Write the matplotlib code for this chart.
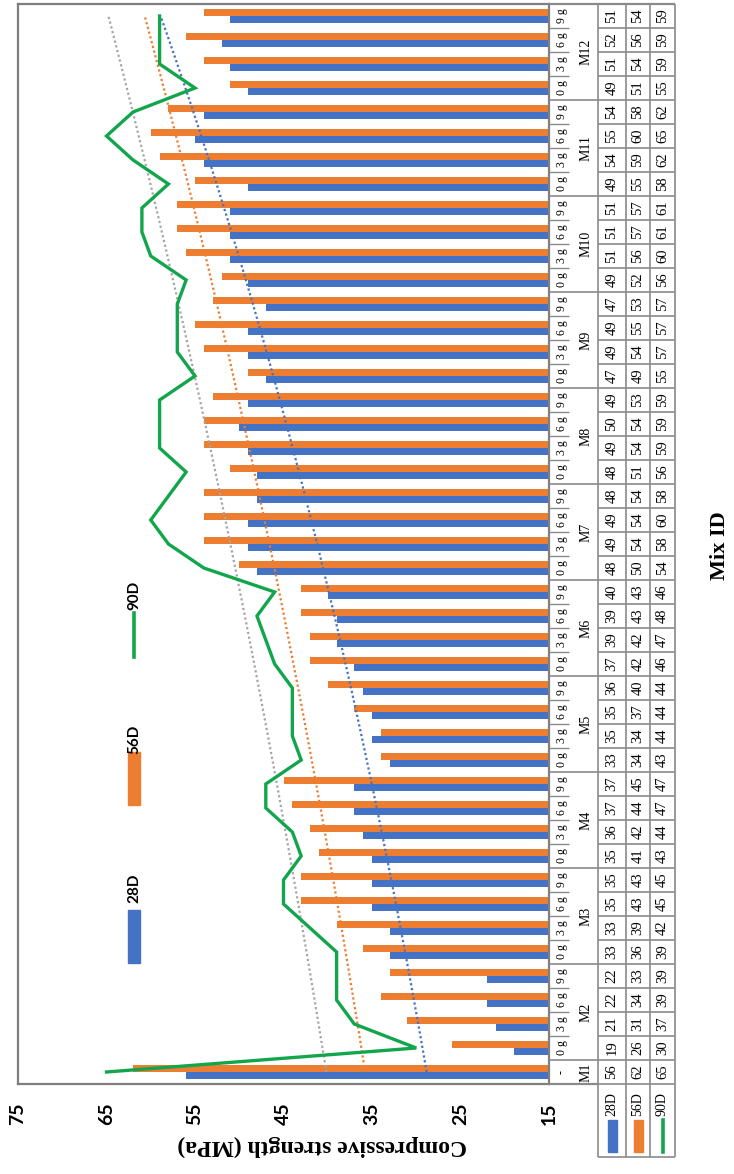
import numpy as np
import matplotlib
matplotlib.use('Agg')
import matplotlib.pyplot as plt
from matplotlib.patches import Rectangle
from matplotlib.lines import Line2D

# ---------------- data ----------------
mixes = ['M1', 'M2', 'M3', 'M4', 'M5', 'M6', 'M7', 'M8', 'M9', 'M10', 'M11', 'M12']
fibre = ['0 g', '3 g', '6 g', '9 g']
series_names = ['28D', '56D', '90D']
s28 = [56, 19, 21, 22, 22, 33, 33, 35, 35, 35, 36, 37, 37, 33, 35, 35, 36,
       37, 39, 39, 40, 48, 49, 49, 48, 48, 49, 50, 49, 47, 49, 49, 47,
       49, 51, 51, 51, 49, 54, 55, 54, 49, 51, 52, 51]
s56 = [62, 26, 31, 34, 33, 36, 39, 43, 43, 41, 42, 44, 45, 34, 34, 37, 40,
       42, 42, 43, 43, 50, 54, 54, 54, 51, 54, 54, 53, 49, 54, 55, 53,
       52, 56, 57, 57, 55, 59, 60, 58, 51, 54, 56, 54]
s90 = [65, 30, 37, 39, 39, 39, 42, 45, 45, 43, 44, 47, 47, 43, 44, 44, 44,
       46, 47, 48, 46, 54, 58, 60, 58, 56, 59, 59, 59, 55, 57, 57, 57,
       56, 60, 61, 61, 58, 62, 65, 62, 55, 59, 59, 59]
value_ticks = [75, 65, 55, 45, 35, 25, 15]

sub_labels = ['-'] + fibre * (len(mixes) - 1)

# ---------------- style ----------------
BLUE, ORANGE, GREEN, GRAY = '#4472C4', '#ED7D31', '#12A54C', '#A5A5A5'
SANS = ['Lato', 'DejaVu Sans']
SERIF = ['Liberation Serif', 'DejaVu Serif']
W, H = 734, 1174
LINEC = '#8a8a8a'

def fx(px):
    return px / W

def fy(py):
    return 1 - py / H

fig = plt.figure(figsize=(W / 100, H / 100), dpi=100)
fig.patch.set_facecolor('white')

L, R, T, B = 18, 549, 4, 1084
ax = fig.add_axes([fx(L), fy(B), (R - L) / W, (B - T) / H])
n = len(s28)
idx = np.arange(n)
bw = 0.28

ax.barh(idx - bw / 2, s28, height=bw, color=BLUE, zorder=2)
ax.barh(idx + bw / 2, s56, height=bw, color=ORANGE, zorder=2)

# exponential trendlines (Excel style: least squares on ln(y))
xx = np.arange(1, n + 1)
for s, c in [(s28, BLUE), (s56, ORANGE), (s90, GRAY)]:
    coef = np.polyfit(xx, np.log(s), 1)
    ax.plot(np.exp(np.polyval(coef, xx)), idx, color=c, lw=1.6,
            ls=(0, (1, 1.2)), zorder=3)

ax.plot(s90, idx, color=GREEN, lw=2.4, zorder=4, solid_joinstyle='miter')

ax.set_xlim(75, 15)
ax.set_ylim(-0.5, n - 0.5)
ax.set_xticks(value_ticks)
ax.set_xticklabels([str(v) for v in value_ticks], rotation=90,
                   fontsize=14, fontweight='bold', family=SANS)
ax.tick_params(axis='x', length=0, pad=13)
ax.set_yticks([])
for sp in ax.spines.values():
    sp.set_color('#7f7f7f')
    sp.set_linewidth(1.6)

# axis titles
fig.text(fx(322), fy(1146), 'Compressive strength (MPa)', rotation=180,
         ha='center', va='center', fontsize=17, fontweight='bold', family=SERIF)
fig.text(fx(720), fy(546), 'Mix ID', rotation=90, ha='center', va='center',
         fontsize=16, fontweight='bold', family=SERIF)

# ---------------- chart legend ----------------
lx = 134
fig.add_artist(Rectangle((fx(128), fy(963)), 12 / W, 53 / H,
                         transform=fig.transFigure, color=BLUE))
fig.text(fx(lx), fy(888), '28D', rotation=90, ha='center', va='center',
         fontsize=11, fontweight='bold', family=SANS)
fig.add_artist(Rectangle((fx(128), fy(805)), 12 / W, 53 / H,
                         transform=fig.transFigure, color=ORANGE))
fig.text(fx(lx), fy(739), '56D', rotation=90, ha='center', va='center',
         fontsize=11, fontweight='bold', family=SANS)
fig.add_artist(Line2D([fx(lx), fx(lx)], [fy(657), fy(613)],
                      transform=fig.transFigure, color=GREEN, lw=2.6))
fig.text(fx(lx), fy(595), '90D', rotation=90, ha='center', va='center',
         fontsize=11, fontweight='bold', family=SANS)

# ---------------- data table ----------------
c0, c1, c2, c3, c4, c5 = 549, 575, 598, 626, 650, 675
tab = fig.add_axes([fx(c0), fy(B), (c5 - c0) / W, (B - T) / H], sharey=ax)
tab.set_xlim(c0, c5)
tab.axis('off')
leg_depth = 73 / 24.0
ybot = -0.5 - leg_depth

def hline(y, x0, x1, lw=1.2):
    tab.plot([x0, x1], [y, y], color=LINEC, lw=lw, clip_on=False,
             solid_capstyle='butt')

def vline(x, y0, y1, lw=1.2):
    tab.plot([x, x], [y0, y1], color=LINEC, lw=lw, clip_on=False,
             solid_capstyle='butt')

# value cells grid
for i in range(n + 1):
    hline(i - 0.5, c2, c5)
for x in (c2, c3, c4, c5):
    vline(x, ybot, n - 0.5)
hline(ybot, c2, c5)
hline(n - 0.5, c0, c5, lw=1.6)
hline(-0.5, c0, c2, lw=1.6)

# group separators and inner separators
gstart = [0] + [1 + 4 * k for k in range(len(mixes) - 1)]
gsize = [1] + [4] * (len(mixes) - 1)
for g, (st, sz) in enumerate(zip(gstart, gsize)):
    hline(st - 0.5, c0, c2)
    for k in range(1, sz):
        hline(st + k - 0.5, c0, c1 - 6, lw=1.0)
    tab.text((c1 + c2) / 2, st + (sz - 1) / 2, mixes[g], rotation=90,
             ha='center', va='center', fontsize=10, family=SERIF)

for i, lab in enumerate(sub_labels):
    tab.text((c0 + c1) / 2, i, lab, rotation=90, ha='center', va='center',
             fontsize=8.5, family=SERIF)

cols = [(c2 + c3) / 2, (c3 + c4) / 2, (c4 + c5) / 2]
for s, cx in zip([s28, s56, s90], cols):
    for i, v in enumerate(s):
        tab.text(cx, i, str(v), rotation=90, ha='center', va='center',
                 fontsize=10.5, family=SERIF)

# legend keys inside the table
key_y0, key_y1 = -0.5 - 68 / 24.0, -0.5 - 36 / 24.0
for name, cx, col in zip(series_names, cols, [BLUE, ORANGE, GREEN]):
    tab.text(cx, -0.5 - 20 / 24.0, name, rotation=90, ha='center',
             va='center', fontsize=10, family=SERIF)
    if col == GREEN:
        tab.plot([cx, cx], [key_y0, key_y1], color=col, lw=2.6,
                 clip_on=False)
    else:
        tab.add_patch(Rectangle((cx - 4.5, key_y0), 9, key_y1 - key_y0,
                                color=col, clip_on=False))

fig.savefig('out.png', dpi=100, facecolor='white')
